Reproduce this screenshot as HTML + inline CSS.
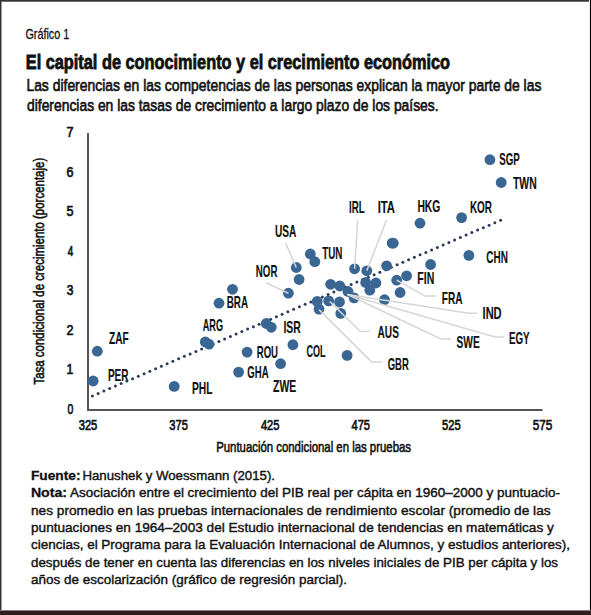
<!DOCTYPE html>
<html><head><meta charset="utf-8">
<style>
html,body{margin:0;padding:0;background:#fff;}
body{width:591px;height:615px;overflow:hidden;position:relative;}
svg{position:absolute;left:0;top:0;display:block;}
text{font-family:"Liberation Sans",sans-serif;}
</style></head><body>
<svg width="591" height="615" viewBox="0 0 591 615">
<rect x="0" y="0" width="591" height="615" fill="#fff"/>

<rect x="1" y="0" width="1" height="615" fill="#9a9a9a"/>
<rect x="0" y="0" width="591" height="1" fill="#333"/>
<rect x="0" y="1" width="591" height="1" fill="#6e6e6e"/>
<rect x="0" y="0" width="1" height="615" fill="#333"/>
<rect x="590" y="0" width="1" height="615" fill="#000"/>
<rect x="589" y="0" width="1" height="615" fill="#e8e8e8"/>
<rect x="0" y="610" width="591" height="1" fill="#8a7b7a"/>
<rect x="0" y="611" width="591" height="4" fill="#2e1f1e"/>
<text x="499.32" y="165.00" font-size="16.4" font-weight="bold" fill="#111" textLength="20.50" lengthAdjust="spacingAndGlyphs" id="t0"  stroke="#111" stroke-width="0.15">SGP</text>
<text x="513.00" y="188.70" font-size="16.4" font-weight="bold" fill="#111" textLength="23.65" lengthAdjust="spacingAndGlyphs" id="t1"  stroke="#111" stroke-width="0.15">TWN</text>
<text x="469.91" y="213.10" font-size="16.4" font-weight="bold" fill="#111" textLength="22.09" lengthAdjust="spacingAndGlyphs" id="t2"  stroke="#111" stroke-width="0.15">KOR</text>
<text x="417.38" y="212.00" font-size="16.4" font-weight="bold" fill="#111" textLength="23.05" lengthAdjust="spacingAndGlyphs" id="t3"  stroke="#111" stroke-width="0.15">HKG</text>
<text x="348.98" y="213.00" font-size="16.4" font-weight="bold" fill="#111" textLength="15.66" lengthAdjust="spacingAndGlyphs" id="t4"  stroke="#111" stroke-width="0.15">IRL</text>
<text x="377.70" y="213.00" font-size="16.4" font-weight="bold" fill="#111" textLength="17.30" lengthAdjust="spacingAndGlyphs" id="t5"  stroke="#111" stroke-width="0.15">ITA</text>
<text x="486.35" y="262.70" font-size="16.4" font-weight="bold" fill="#111" textLength="21.56" lengthAdjust="spacingAndGlyphs" id="t6"  stroke="#111" stroke-width="0.15">CHN</text>
<text x="417.28" y="283.90" font-size="16.4" font-weight="bold" fill="#111" textLength="17.00" lengthAdjust="spacingAndGlyphs" id="t7"  stroke="#111" stroke-width="0.15">FIN</text>
<text x="441.72" y="304.00" font-size="16.4" font-weight="bold" fill="#111" textLength="20.73" lengthAdjust="spacingAndGlyphs" id="t8"  stroke="#111" stroke-width="0.15">FRA</text>
<text x="482.56" y="319.00" font-size="16.4" font-weight="bold" fill="#111" textLength="19.06" lengthAdjust="spacingAndGlyphs" id="t9"  stroke="#111" stroke-width="0.15">IND</text>
<text x="508.94" y="344.00" font-size="16.4" font-weight="bold" fill="#111" textLength="20.73" lengthAdjust="spacingAndGlyphs" id="t10"  stroke="#111" stroke-width="0.15">EGY</text>
<text x="456.50" y="347.50" font-size="16.4" font-weight="bold" fill="#111" textLength="23.18" lengthAdjust="spacingAndGlyphs" id="t11"  stroke="#111" stroke-width="0.15">SWE</text>
<text x="377.56" y="338.20" font-size="16.4" font-weight="bold" fill="#111" textLength="21.31" lengthAdjust="spacingAndGlyphs" id="t12"  stroke="#111" stroke-width="0.15">AUS</text>
<text x="387.72" y="369.50" font-size="16.4" font-weight="bold" fill="#111" textLength="21.15" lengthAdjust="spacingAndGlyphs" id="t13"  stroke="#111" stroke-width="0.15">GBR</text>
<text x="274.93" y="237.30" font-size="16.4" font-weight="bold" fill="#111" textLength="21.35" lengthAdjust="spacingAndGlyphs" id="t14"  stroke="#111" stroke-width="0.15">USA</text>
<text x="322.14" y="258.90" font-size="16.4" font-weight="bold" fill="#111" textLength="20.27" lengthAdjust="spacingAndGlyphs" id="t15"  stroke="#111" stroke-width="0.15">TUN</text>
<text x="255.83" y="276.80" font-size="16.4" font-weight="bold" fill="#111" textLength="21.58" lengthAdjust="spacingAndGlyphs" id="t16"  stroke="#111" stroke-width="0.15">NOR</text>
<text x="226.72" y="307.90" font-size="16.4" font-weight="bold" fill="#111" textLength="21.28" lengthAdjust="spacingAndGlyphs" id="t17"  stroke="#111" stroke-width="0.15">BRA</text>
<text x="202.76" y="330.90" font-size="16.4" font-weight="bold" fill="#111" textLength="20.27" lengthAdjust="spacingAndGlyphs" id="t18"  stroke="#111" stroke-width="0.15">ARG</text>
<text x="283.39" y="333.00" font-size="16.4" font-weight="bold" fill="#111" textLength="17.34" lengthAdjust="spacingAndGlyphs" id="t19"  stroke="#111" stroke-width="0.15">ISR</text>
<text x="306.58" y="357.20" font-size="16.4" font-weight="bold" fill="#111" textLength="19.06" lengthAdjust="spacingAndGlyphs" id="t20"  stroke="#111" stroke-width="0.15">COL</text>
<text x="256.74" y="358.00" font-size="16.4" font-weight="bold" fill="#111" textLength="21.28" lengthAdjust="spacingAndGlyphs" id="t21"  stroke="#111" stroke-width="0.15">ROU</text>
<text x="247.30" y="378.30" font-size="16.4" font-weight="bold" fill="#111" textLength="21.25" lengthAdjust="spacingAndGlyphs" id="t22"  stroke="#111" stroke-width="0.15">GHA</text>
<text x="273.10" y="392.00" font-size="16.4" font-weight="bold" fill="#111" textLength="23.13" lengthAdjust="spacingAndGlyphs" id="t23"  stroke="#111" stroke-width="0.15">ZWE</text>
<text x="191.89" y="393.60" font-size="16.4" font-weight="bold" fill="#111" textLength="20.56" lengthAdjust="spacingAndGlyphs" id="t24"  stroke="#111" stroke-width="0.15">PHL</text>
<text x="109.00" y="344.20" font-size="16.4" font-weight="bold" fill="#111" textLength="19.68" lengthAdjust="spacingAndGlyphs" id="t25"  stroke="#111" stroke-width="0.15">ZAF</text>
<text x="107.95" y="381.20" font-size="16.4" font-weight="bold" fill="#111" textLength="20.56" lengthAdjust="spacingAndGlyphs" id="t26"  stroke="#111" stroke-width="0.15">PER</text>
<text x="67.53" y="413.80" font-size="15.0" font-weight="normal" fill="#111" textLength="5.82" lengthAdjust="spacingAndGlyphs" id="t27"  stroke="#111" stroke-width="0.7">0</text>
<text x="66.53" y="374.30" font-size="15.0" font-weight="normal" fill="#111" textLength="6.79" lengthAdjust="spacingAndGlyphs" id="t28"  stroke="#111" stroke-width="0.7">1</text>
<text x="66.48" y="334.80" font-size="15.0" font-weight="normal" fill="#111" textLength="6.98" lengthAdjust="spacingAndGlyphs" id="t29"  stroke="#111" stroke-width="0.7">2</text>
<text x="66.74" y="295.30" font-size="15.0" font-weight="normal" fill="#111" textLength="6.60" lengthAdjust="spacingAndGlyphs" id="t30"  stroke="#111" stroke-width="0.7">3</text>
<text x="67.71" y="255.80" font-size="15.0" font-weight="normal" fill="#111" textLength="5.48" lengthAdjust="spacingAndGlyphs" id="t31"  stroke="#111" stroke-width="0.7">4</text>
<text x="66.48" y="216.30" font-size="15.0" font-weight="normal" fill="#111" textLength="6.98" lengthAdjust="spacingAndGlyphs" id="t32"  stroke="#111" stroke-width="0.7">5</text>
<text x="66.48" y="176.80" font-size="15.0" font-weight="normal" fill="#111" textLength="6.98" lengthAdjust="spacingAndGlyphs" id="t33"  stroke="#111" stroke-width="0.7">6</text>
<text x="66.48" y="137.30" font-size="15.0" font-weight="normal" fill="#111" textLength="6.98" lengthAdjust="spacingAndGlyphs" id="t34"  stroke="#111" stroke-width="0.7">7</text>
<text x="78.70" y="430.00" font-size="15.0" font-weight="normal" fill="#111" textLength="18.61" lengthAdjust="spacingAndGlyphs" id="t35"  stroke="#111" stroke-width="0.7">325</text>
<text x="169.32" y="430.00" font-size="15.0" font-weight="normal" fill="#111" textLength="18.52" lengthAdjust="spacingAndGlyphs" id="t36"  stroke="#111" stroke-width="0.7">375</text>
<text x="260.88" y="430.00" font-size="15.0" font-weight="normal" fill="#111" textLength="18.54" lengthAdjust="spacingAndGlyphs" id="t37"  stroke="#111" stroke-width="0.7">425</text>
<text x="351.52" y="430.00" font-size="15.0" font-weight="normal" fill="#111" textLength="18.48" lengthAdjust="spacingAndGlyphs" id="t38"  stroke="#111" stroke-width="0.7">475</text>
<text x="442.05" y="430.00" font-size="15.0" font-weight="normal" fill="#111" textLength="18.60" lengthAdjust="spacingAndGlyphs" id="t39"  stroke="#111" stroke-width="0.7">525</text>
<text x="532.67" y="430.00" font-size="15.0" font-weight="normal" fill="#111" textLength="19.64" lengthAdjust="spacingAndGlyphs" id="t40"  stroke="#111" stroke-width="0.7">575</text>
<text x="25.38" y="38.80" font-size="14.5" font-weight="normal" fill="#111" textLength="43.86" lengthAdjust="spacingAndGlyphs" id="t41"  stroke="#111" stroke-width="0.3">Gráfico 1</text>
<text x="25.79" y="69.30" font-size="20" font-weight="bold" fill="#111" textLength="424.21" lengthAdjust="spacingAndGlyphs" id="t42"  stroke="#111" stroke-width="0.8">El capital de conocimiento y el crecimiento económico</text>
<text x="26.40" y="90.80" font-size="16.9" font-weight="normal" fill="#111" textLength="515.00" lengthAdjust="spacingAndGlyphs" id="t43"  stroke="#111" stroke-width="0.65">Las diferencias en las competencias de las personas explican la mayor parte de las</text>
<text x="27.00" y="110.70" font-size="16.9" font-weight="normal" fill="#111" textLength="411.62" lengthAdjust="spacingAndGlyphs" id="t44"  stroke="#111" stroke-width="0.65">diferencias en las tasas de crecimiento a largo plazo de los países.</text>
<text x="216.20" y="452.30" font-size="15.0" font-weight="normal" fill="#111" textLength="194.80" lengthAdjust="spacingAndGlyphs" id="t45"  stroke="#111" stroke-width="0.6">Puntuación condicional en las pruebas</text>
<text x="30.97" y="479.70" font-size="13.6" font-weight="bold" fill="#111" textLength="49.48" lengthAdjust="spacingAndGlyphs" id="t46"  stroke="#111" stroke-width="0.3">Fuente:</text>
<text x="82.38" y="479.70" font-size="13.6" font-weight="normal" fill="#111" textLength="192.63" lengthAdjust="spacingAndGlyphs" id="t47"  stroke="#111" stroke-width="0.4">Hanushek y Woessmann (2015).</text>
<text x="30.92" y="497.12" font-size="13.6" font-weight="bold" fill="#111" textLength="36.13" lengthAdjust="spacingAndGlyphs" id="t48"  stroke="#111" stroke-width="0.3">Nota:</text>
<text x="70.00" y="497.12" font-size="13.6" font-weight="normal" fill="#111" textLength="490.00" lengthAdjust="spacingAndGlyphs" id="t49"  stroke="#111" stroke-width="0.4">Asociación entre el crecimiento del PIB real per cápita en 1960–2000 y puntuacio-</text>
<text x="31.00" y="514.54" font-size="13.6" font-weight="normal" fill="#111" textLength="519.60" lengthAdjust="spacingAndGlyphs" id="t50"  stroke="#111" stroke-width="0.4">nes promedio en las pruebas internacionales de rendimiento escolar (promedio de las</text>
<text x="31.00" y="531.96" font-size="13.6" font-weight="normal" fill="#111" textLength="522.80" lengthAdjust="spacingAndGlyphs" id="t51"  stroke="#111" stroke-width="0.4">puntuaciones en 1964–2003 del Estudio internacional de tendencias en matemáticas y</text>
<text x="31.00" y="549.38" font-size="13.6" font-weight="normal" fill="#111" textLength="539.00" lengthAdjust="spacingAndGlyphs" id="t52"  stroke="#111" stroke-width="0.4">ciencias, el Programa para la Evaluación Internacional de Alumnos, y estudios anteriores),</text>
<text x="31.00" y="566.80" font-size="13.6" font-weight="normal" fill="#111" textLength="527.00" lengthAdjust="spacingAndGlyphs" id="t53"  stroke="#111" stroke-width="0.4">después de tener en cuenta las diferencias en los niveles iniciales de PIB per cápita y los</text>
<text x="31.00" y="584.22" font-size="13.6" font-weight="normal" fill="#111" textLength="316.01" lengthAdjust="spacingAndGlyphs" id="t54"  stroke="#111" stroke-width="0.4">años de escolarización (gráfico de regresión parcial).</text>
<g transform="translate(44.3,384.6) rotate(-90)"><text x="0.00" y="0.00" font-size="15.0" font-weight="normal" fill="#111" textLength="226.80" lengthAdjust="spacingAndGlyphs" id="ytitle" stroke="#111" stroke-width="0.6">Tasa condicional de crecimiento (porcentaje)</text></g>
<rect x="87" y="133" width="2" height="278" fill="#555"/>
<rect x="87" y="409" width="455.5" height="2" fill="#555"/>
<circle cx="92.35" cy="395.96" r="1.5" fill="#2c3a58"/>
<circle cx="98.10" cy="393.48" r="1.5" fill="#2c3a58"/>
<circle cx="103.85" cy="391.01" r="1.5" fill="#2c3a58"/>
<circle cx="109.60" cy="388.53" r="1.5" fill="#2c3a58"/>
<circle cx="115.35" cy="386.06" r="1.5" fill="#2c3a58"/>
<circle cx="121.10" cy="383.58" r="1.5" fill="#2c3a58"/>
<circle cx="126.85" cy="381.11" r="1.5" fill="#2c3a58"/>
<circle cx="132.60" cy="378.63" r="1.5" fill="#2c3a58"/>
<circle cx="138.35" cy="376.16" r="1.5" fill="#2c3a58"/>
<circle cx="144.10" cy="373.68" r="1.5" fill="#2c3a58"/>
<circle cx="149.85" cy="371.21" r="1.5" fill="#2c3a58"/>
<circle cx="155.60" cy="368.73" r="1.5" fill="#2c3a58"/>
<circle cx="161.35" cy="366.25" r="1.5" fill="#2c3a58"/>
<circle cx="167.10" cy="363.78" r="1.5" fill="#2c3a58"/>
<circle cx="172.85" cy="361.30" r="1.5" fill="#2c3a58"/>
<circle cx="178.60" cy="358.83" r="1.5" fill="#2c3a58"/>
<circle cx="184.35" cy="356.35" r="1.5" fill="#2c3a58"/>
<circle cx="190.10" cy="353.88" r="1.5" fill="#2c3a58"/>
<circle cx="195.85" cy="351.40" r="1.5" fill="#2c3a58"/>
<circle cx="201.60" cy="348.93" r="1.5" fill="#2c3a58"/>
<circle cx="207.35" cy="346.45" r="1.5" fill="#2c3a58"/>
<circle cx="213.10" cy="343.97" r="1.5" fill="#2c3a58"/>
<circle cx="218.85" cy="341.50" r="1.5" fill="#2c3a58"/>
<circle cx="224.60" cy="339.02" r="1.5" fill="#2c3a58"/>
<circle cx="230.35" cy="336.55" r="1.5" fill="#2c3a58"/>
<circle cx="236.10" cy="334.07" r="1.5" fill="#2c3a58"/>
<circle cx="241.85" cy="331.60" r="1.5" fill="#2c3a58"/>
<circle cx="247.60" cy="329.12" r="1.5" fill="#2c3a58"/>
<circle cx="253.35" cy="326.65" r="1.5" fill="#2c3a58"/>
<circle cx="259.10" cy="324.17" r="1.5" fill="#2c3a58"/>
<circle cx="264.85" cy="321.70" r="1.5" fill="#2c3a58"/>
<circle cx="270.60" cy="319.22" r="1.5" fill="#2c3a58"/>
<circle cx="276.35" cy="316.74" r="1.5" fill="#2c3a58"/>
<circle cx="282.10" cy="314.27" r="1.5" fill="#2c3a58"/>
<circle cx="287.85" cy="311.79" r="1.5" fill="#2c3a58"/>
<circle cx="293.60" cy="309.32" r="1.5" fill="#2c3a58"/>
<circle cx="299.35" cy="306.84" r="1.5" fill="#2c3a58"/>
<circle cx="305.10" cy="304.37" r="1.5" fill="#2c3a58"/>
<circle cx="310.85" cy="301.89" r="1.5" fill="#2c3a58"/>
<circle cx="316.60" cy="299.42" r="1.5" fill="#2c3a58"/>
<circle cx="322.35" cy="296.94" r="1.5" fill="#2c3a58"/>
<circle cx="328.10" cy="294.46" r="1.5" fill="#2c3a58"/>
<circle cx="333.85" cy="291.99" r="1.5" fill="#2c3a58"/>
<circle cx="339.60" cy="289.51" r="1.5" fill="#2c3a58"/>
<circle cx="345.35" cy="287.04" r="1.5" fill="#2c3a58"/>
<circle cx="351.10" cy="284.56" r="1.5" fill="#2c3a58"/>
<circle cx="356.85" cy="282.09" r="1.5" fill="#2c3a58"/>
<circle cx="362.60" cy="279.61" r="1.5" fill="#2c3a58"/>
<circle cx="368.35" cy="277.14" r="1.5" fill="#2c3a58"/>
<circle cx="374.10" cy="274.66" r="1.5" fill="#2c3a58"/>
<circle cx="379.85" cy="272.19" r="1.5" fill="#2c3a58"/>
<circle cx="385.60" cy="269.71" r="1.5" fill="#2c3a58"/>
<circle cx="391.35" cy="267.23" r="1.5" fill="#2c3a58"/>
<circle cx="397.10" cy="264.76" r="1.5" fill="#2c3a58"/>
<circle cx="402.85" cy="262.28" r="1.5" fill="#2c3a58"/>
<circle cx="408.60" cy="259.81" r="1.5" fill="#2c3a58"/>
<circle cx="414.35" cy="257.33" r="1.5" fill="#2c3a58"/>
<circle cx="420.10" cy="254.86" r="1.5" fill="#2c3a58"/>
<circle cx="425.85" cy="252.38" r="1.5" fill="#2c3a58"/>
<circle cx="431.60" cy="249.91" r="1.5" fill="#2c3a58"/>
<circle cx="437.35" cy="247.43" r="1.5" fill="#2c3a58"/>
<circle cx="443.10" cy="244.95" r="1.5" fill="#2c3a58"/>
<circle cx="448.85" cy="242.48" r="1.5" fill="#2c3a58"/>
<circle cx="454.60" cy="240.00" r="1.5" fill="#2c3a58"/>
<circle cx="460.35" cy="237.53" r="1.5" fill="#2c3a58"/>
<circle cx="466.10" cy="235.05" r="1.5" fill="#2c3a58"/>
<circle cx="471.85" cy="232.58" r="1.5" fill="#2c3a58"/>
<circle cx="477.60" cy="230.10" r="1.5" fill="#2c3a58"/>
<circle cx="483.35" cy="227.63" r="1.5" fill="#2c3a58"/>
<circle cx="489.10" cy="225.15" r="1.5" fill="#2c3a58"/>
<circle cx="494.85" cy="222.68" r="1.5" fill="#2c3a58"/>
<circle cx="500.60" cy="220.20" r="1.5" fill="#2c3a58"/>
<circle cx="489.9" cy="159.7" r="5.4" fill="#396693"/>
<circle cx="501.2" cy="182.5" r="5.4" fill="#396693"/>
<circle cx="461.6" cy="217.6" r="5.4" fill="#396693"/>
<circle cx="420" cy="223.2" r="5.4" fill="#396693"/>
<circle cx="392.2" cy="243.1" r="5.4" fill="#396693"/>
<circle cx="468.9" cy="255.4" r="5.4" fill="#396693"/>
<circle cx="430.6" cy="264.5" r="5.4" fill="#396693"/>
<circle cx="386.6" cy="265.8" r="5.4" fill="#396693"/>
<circle cx="354.6" cy="268.8" r="5.4" fill="#396693"/>
<circle cx="366.8" cy="270.8" r="5.4" fill="#396693"/>
<circle cx="406.6" cy="275.8" r="5.4" fill="#396693"/>
<circle cx="396.7" cy="280.2" r="5.4" fill="#396693"/>
<circle cx="400.1" cy="292.5" r="5.4" fill="#396693"/>
<circle cx="384.5" cy="299.7" r="5.4" fill="#396693"/>
<circle cx="365.7" cy="282.5" r="5.4" fill="#396693"/>
<circle cx="375.9" cy="283.0" r="5.4" fill="#396693"/>
<circle cx="369.8" cy="290.2" r="5.4" fill="#396693"/>
<circle cx="310.3" cy="254" r="5.4" fill="#396693"/>
<circle cx="314.8" cy="261.7" r="5.4" fill="#396693"/>
<circle cx="296.3" cy="267.5" r="5.4" fill="#396693"/>
<circle cx="299.1" cy="279.5" r="5.4" fill="#396693"/>
<circle cx="288.4" cy="293.2" r="5.4" fill="#396693"/>
<circle cx="330.6" cy="284.3" r="5.4" fill="#396693"/>
<circle cx="339.8" cy="286" r="5.4" fill="#396693"/>
<circle cx="348" cy="291.5" r="5.4" fill="#396693"/>
<circle cx="354.1" cy="297.9" r="5.4" fill="#396693"/>
<circle cx="317.2" cy="301.4" r="5.4" fill="#396693"/>
<circle cx="319" cy="309.1" r="5.4" fill="#396693"/>
<circle cx="328.7" cy="300.9" r="5.4" fill="#396693"/>
<circle cx="339.5" cy="302" r="5.4" fill="#396693"/>
<circle cx="340.8" cy="313.4" r="5.4" fill="#396693"/>
<circle cx="232.5" cy="289.3" r="5.4" fill="#396693"/>
<circle cx="219" cy="303.2" r="5.4" fill="#396693"/>
<circle cx="266.3" cy="323.5" r="5.4" fill="#396693"/>
<circle cx="271.3" cy="327.3" r="5.4" fill="#396693"/>
<circle cx="205.3" cy="341.9" r="5.4" fill="#396693"/>
<circle cx="209" cy="344.2" r="5.4" fill="#396693"/>
<circle cx="292.9" cy="344.7" r="5.4" fill="#396693"/>
<circle cx="247.1" cy="352.1" r="5.4" fill="#396693"/>
<circle cx="238.6" cy="372.1" r="5.4" fill="#396693"/>
<circle cx="280.6" cy="363.7" r="5.4" fill="#396693"/>
<circle cx="174.2" cy="386.4" r="5.4" fill="#396693"/>
<circle cx="97.3" cy="351.2" r="5.4" fill="#396693"/>
<circle cx="93.2" cy="381" r="5.4" fill="#396693"/>
<circle cx="347.1" cy="355.4" r="5.4" fill="#396693"/>
<circle cx="393.3" cy="243.2" r="5.4" fill="#396693"/>
<polyline points="357.7,219.8 354.6,268.8" fill="none" stroke="#d6d6d6" stroke-width="1.5"/>
<polyline points="386.6,219.8 366.8,270.8" fill="none" stroke="#d6d6d6" stroke-width="1.5"/>
<polyline points="285.7,243.4 296.3,267.5" fill="none" stroke="#d6d6d6" stroke-width="1.5"/>
<polyline points="266.1,282.7 288.4,293.2" fill="none" stroke="#d6d6d6" stroke-width="1.5"/>
<polyline points="396.7,280.2 425,296.1 435.5,296.1" fill="none" stroke="#d6d6d6" stroke-width="1.5"/>
<polyline points="347.5,294.5 468.7,313.2 477,313.2" fill="none" stroke="#d6d6d6" stroke-width="1.5"/>
<polyline points="347.5,294.5 495.0,336.9 504.3,336.9" fill="none" stroke="#d6d6d6" stroke-width="1.5"/>
<polyline points="347.5,294.5 440.8,339 451,339" fill="none" stroke="#d6d6d6" stroke-width="1.5"/>
<polyline points="329.7,301.5 360.3,331.5 369.6,331.5" fill="none" stroke="#d6d6d6" stroke-width="1.5"/>
<polyline points="319.2,309.9 371.6,361.9 381.8,361.9" fill="none" stroke="#d6d6d6" stroke-width="1.5"/>
</svg></body></html>
